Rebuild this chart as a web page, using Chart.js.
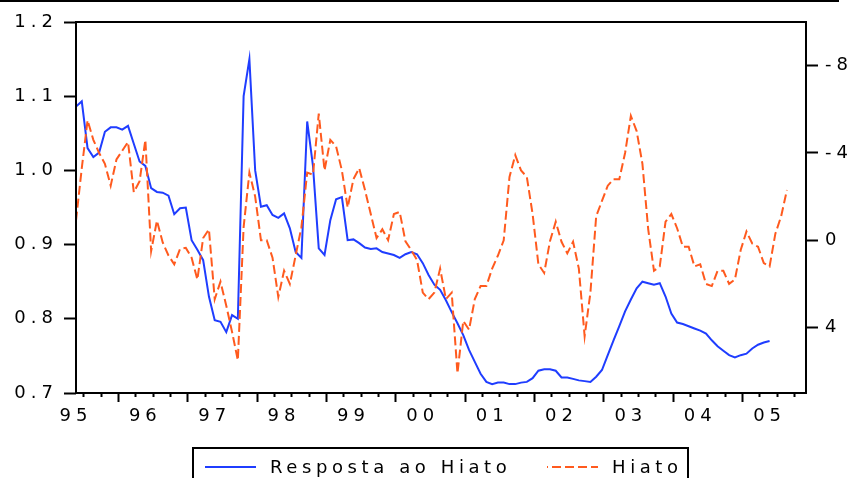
<!DOCTYPE html>
<html>
<head>
<meta charset="utf-8">
<script src="https://cdn.jsdelivr.net/npm/chart.js@4/dist/chart.umd.min.js"></script>
<style>
  html, body { margin: 0; padding: 0; background: #fff; }
  #wrap { width: 851px; height: 478px; position: relative; }
</style>
</head>
<body>
<div id="wrap"><canvas id="c" width="851" height="478"></canvas></div>
<script>
// Monthly observations from January 1995; x value = months since 1995M01
const yearLabels = ['95', '96', '97', '98', '99', '00', '01', '02', '03', '04', '05'];

// Resposta ao Hiato (left axis)
const respostaAoHiato = [
  1.086, 1.093, 1.030, 1.018, 1.024, 1.052, 1.058, 1.058, 1.055, 1.060, 1.036, 1.012,
  1.006, 0.976, 0.971, 0.970, 0.966, 0.941, 0.949, 0.950, 0.906, 0.893, 0.879, 0.830,
  0.798, 0.796, 0.782, 0.805, 0.800, 1.100, 1.150, 1.000, 0.951, 0.953, 0.940, 0.936,
  0.942, 0.922, 0.890, 0.882, 1.066, 1.006, 0.895, 0.886, 0.933, 0.961, 0.964, 0.906,
  0.907, 0.902, 0.896, 0.894, 0.895, 0.890, 0.888, 0.886, 0.882, 0.887, 0.890, 0.887,
  0.875, 0.859, 0.846, 0.839, 0.825, 0.809, 0.794, 0.778, 0.758, 0.742, 0.726, 0.715,
  0.712, 0.714, 0.714, 0.712, 0.712, 0.714, 0.715, 0.720, 0.730, 0.732, 0.732, 0.730,
  0.721, 0.721, 0.719, 0.717, 0.716, 0.715, 0.722, 0.731, 0.751, 0.771, 0.790, 0.810,
  0.826, 0.841, 0.850, 0.848, 0.846, 0.848, 0.830, 0.807, 0.795, 0.793, 0.790, 0.787,
  0.784, 0.780, 0.771, 0.763, 0.757, 0.751, 0.748, 0.751, 0.753, 0.760, 0.765, 0.768,
  0.770
];

// Hiato (right axis, inverted)
const hiato = [
  -0.9, -3.3, -5.5, -4.6, -4.0, -3.5, -2.5, -3.7, -4.1, -4.5, -2.2, -2.7,
  -4.6, 0.5, -0.9, 0.1, 0.7, 1.1, 0.4, 0.35, 0.8, 1.8, -0.1, -0.5,
  2.7, 1.9, 3.0, 4.2, 5.5, -0.6, -3.1, -2.0, 0.0, 0.0, 0.8, 2.6,
  1.4, 2.0, 0.7, -0.6, -3.1, -3.0, -5.8, -3.2, -4.6, -4.3, -3.2, -1.5,
  -2.8, -3.3, -2.3, -1.2, -0.1, -0.5, 0.0, -1.2, -1.3, 0.05, 0.45, 0.9,
  2.4, 2.7, 2.4, 1.3, 2.7, 2.4, 6.1, 3.7, 4.1, 2.7, 2.1, 2.1,
  1.3, 0.7, 0.0, -2.9, -3.9, -3.2, -2.9, -1.2, 1.1, 1.5, 0.05, -0.85,
  0.07, 0.6, 0.07, 1.3, 4.4, 2.4, -1.1, -1.8, -2.5, -2.8, -2.8, -4.0,
  -5.7, -5.0, -3.5, -0.5, 1.4, 1.2, -0.85, -1.2, -0.55, 0.3, 0.3, 1.2,
  1.1, 2.0, 2.1, 1.4, 1.4, 2.0, 1.8, 0.45, -0.4, 0.15, 0.3, 1.05,
  1.2, -0.3, -1.1, -2.3
];

const leftTicks = [0.7, 0.8, 0.9, 1.0, 1.1, 1.2];
const rightTicks = [-8, -4, 0, 4];

const BLUE = '#1f3dff';
const ORANGE = '#ff5a1e';
const FONT = { family: 'DejaVu Sans', size: 18 };
const QUARTER_TICK_START = 1.25;   // first quarterly tick mark, in months

const framePlugin = {
  id: 'frameAndLegend',
  beforeDraw(chart) {
    chart.ctx.letterSpacing = '5px';
  },
  afterDraw(chart) {
    const { ctx, chartArea: a, scales } = chart;
    const x = scales.x;
    ctx.save();
    ctx.strokeStyle = '#000';
    ctx.lineWidth = 2;

    // rule across the top of the page
    ctx.beginPath();
    ctx.moveTo(0, 1);
    ctx.lineTo(839, 1);
    ctx.stroke();

    // plot frame
    ctx.strokeRect(a.left, a.top, a.right - a.left, a.bottom - a.top);

    // quarterly tick marks, longer once a year
    for (let k = 0; ; k++) {
      const m = QUARTER_TICK_START + 3 * k;
      if (m > x.max) break;
      const px = Math.round(x.getPixelForValue(m)) + 0.5;
      const len = (k % 4 === 2) ? 9 : 4;
      ctx.beginPath();
      ctx.moveTo(px, a.bottom);
      ctx.lineTo(px, a.bottom + len);
      ctx.stroke();
    }

    // legend box
    const boxLeft = 193, boxRight = 688, boxTop = 448, rowY = 467;
    ctx.strokeRect(boxLeft, boxTop, boxRight - boxLeft, 60);
    const itemX = [205, 547];
    ctx.font = '18px "DejaVu Sans"';
    ctx.letterSpacing = '4.6px';
    ctx.textBaseline = 'middle';
    ctx.textAlign = 'left';
    ctx.fillStyle = '#000';
    chart.data.datasets.forEach((ds, i) => {
      const x0 = itemX[i];
      ctx.save();
      ctx.strokeStyle = ds.borderColor;
      ctx.lineWidth = 2;
      if (ds.borderDash) {
        ctx.setLineDash(ds.borderDash);
        ctx.lineDashOffset = 8;
      }
      ctx.beginPath();
      ctx.moveTo(x0, rowY);
      ctx.lineTo(x0 + 51, rowY);
      ctx.stroke();
      ctx.restore();
      ctx.fillText(ds.label, x0 + 65, rowY + 1);
    });
    ctx.restore();
  }
};

new Chart(document.getElementById('c'), {
  type: 'line',
  data: {
    datasets: [
      {
        label: 'Resposta ao Hiato',
        data: respostaAoHiato.map((v, i) => ({ x: i, y: v })),
        yAxisID: 'y',
        borderColor: BLUE,
        borderWidth: 2,
        pointRadius: 0,
        tension: 0,
        fill: false,
        order: 1
      },
      {
        label: 'Hiato',
        data: hiato.map((v, i) => ({ x: i, y: v })),
        yAxisID: 'y2',
        borderColor: ORANGE,
        borderWidth: 2,
        borderDash: [9, 4],
        pointRadius: 0,
        tension: 0,
        fill: false,
        order: 0
      }
    ]
  },
  options: {
    responsive: false,
    animation: false,
    devicePixelRatio: 1,
    layout: { padding: { top: 22, left: 0, right: 0, bottom: 0 } },
    plugins: { legend: { display: false }, tooltip: { enabled: false } },
    scales: {
      x: {
        type: 'linear',
        position: 'bottom',
        min: 0,
        max: 126.3,
        afterBuildTicks: s => { s.ticks = yearLabels.map((_, i) => ({ value: 12 * i })); },
        afterFit: s => { s.height = 85; },
        ticks: {
          callback: (v, i) => yearLabels[i],
          autoSkip: false,
          maxRotation: 0,
          padding: 13,
          color: '#000',
          font: FONT
        },
        grid: { display: false, drawTicks: false },
        border: { display: false }
      },
      y: {
        type: 'linear',
        position: 'left',
        min: 0.7,
        max: 1.2,
        afterBuildTicks: s => { s.ticks = leftTicks.map(v => ({ value: v })); },
        afterFit: s => { s.width = 76; },
        ticks: {
          callback: v => Number(v).toFixed(1),
          padding: 6,
          color: '#000',
          font: FONT
        },
        grid: { drawOnChartArea: false, tickLength: 12, tickWidth: 2, tickColor: '#000' },
        border: { display: false }
      },
      y2: {
        type: 'linear',
        position: 'right',
        min: -10,
        max: 7,
        reverse: true,
        afterBuildTicks: s => { s.ticks = rightTicks.map(v => ({ value: v })); },
        afterFit: s => { s.width = 45; },
        ticks: {
          callback: v => String(v),
          padding: 7,
          color: '#000',
          font: FONT
        },
        grid: { drawOnChartArea: false, tickLength: 12, tickWidth: 2, tickColor: '#000' },
        border: { display: false }
      }
    }
  },
  plugins: [framePlugin]
});
</script>
</body>
</html>
